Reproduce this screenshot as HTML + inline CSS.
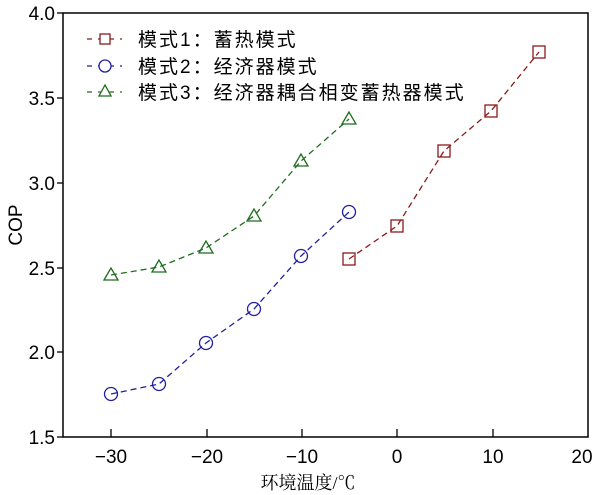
<!DOCTYPE html>
<html><head><meta charset="utf-8"><style>html,body{margin:0;padding:0;background:#fff}svg{display:block}</style></head><body>
<svg width="601" height="495" xmlns="http://www.w3.org/2000/svg" font-family="Liberation Sans, Noto Sans CJK SC, sans-serif">
<rect x="63" y="13" width="525" height="424" fill="none" stroke="#000" stroke-width="1.5"/>
<g stroke="#000" stroke-width="1.3">
<line x1="57" y1="13" x2="63" y2="13"/><line x1="57" y1="98" x2="63" y2="98"/><line x1="57" y1="183" x2="63" y2="183"/><line x1="57" y1="268" x2="63" y2="268"/><line x1="57" y1="352" x2="63" y2="352"/><line x1="57" y1="437" x2="63" y2="437"/>
<line x1="111" y1="437" x2="111" y2="429"/><line x1="207" y1="437" x2="207" y2="429"/><line x1="302" y1="437" x2="302" y2="429"/><line x1="397" y1="437" x2="397" y2="429"/><line x1="493" y1="437" x2="493" y2="429"/>
</g>
<g font-size="19" text-anchor="end" fill="#000">
<text x="55" y="20">4.0</text><text x="55" y="105">3.5</text><text x="55" y="190">3.0</text><text x="55" y="275">2.5</text><text x="55" y="359">2.0</text><text x="55" y="444">1.5</text>
</g>
<g font-size="19" text-anchor="middle" fill="#000">
<text x="111" y="463">−30</text><text x="207" y="463">−20</text><text x="302" y="463">−10</text><text x="397" y="463">0</text><text x="493" y="463">10</text><text x="582" y="463">20</text>
<text x="308" y="489" font-size="18" font-family="Liberation Serif, Noto Serif CJK SC, serif">环境温度/℃</text>
<text transform="translate(22,225) rotate(-90)">COP</text>
</g>
<g fill="none" stroke-width="1.3">
<polyline stroke="#8b1a1a" stroke-dasharray="6,4" points="349,259 397,226 444,151 491,111 539,52"/>
<polyline stroke="#2020a0" stroke-dasharray="6,4" points="111,394 159,384 206,343 254,309 301,256 349,212"/>
<polyline stroke="#1f6e1f" stroke-dasharray="6,4" points="111,275 159,267 206,248 254,216 301,161 349,119"/>
<g stroke="#8b1a1a"><rect x="343" y="253" width="12" height="12"/><rect x="391" y="220" width="12" height="12"/><rect x="438" y="145" width="12" height="12"/><rect x="485" y="105" width="12" height="12"/><rect x="533" y="46" width="12" height="12"/></g>
<g stroke="#2020a0"><circle cx="111" cy="394" r="6.5"/><circle cx="159" cy="384" r="6.5"/><circle cx="206" cy="343" r="6.5"/><circle cx="254" cy="309" r="6.5"/><circle cx="301" cy="256" r="6.5"/><circle cx="349" cy="212" r="6.5"/></g>
<g stroke="#1f6e1f">
<polygon points="111,268 104,280 118,280"/><polygon points="159,260 152,272 166,272"/><polygon points="206,241 199,253 213,253"/><polygon points="254,209 247,221 261,221"/><polygon points="301,154 294,166 308,166"/><polygon points="349,112 342,124 356,124"/></g>
<line x1="87" y1="39" x2="122" y2="39" stroke="#8b1a1a" stroke-dasharray="5,6"/>
<rect x="100" y="34" width="10" height="10" stroke="#8b1a1a" fill="#fff"/>
<line x1="87" y1="66" x2="122" y2="66" stroke="#2020a0" stroke-dasharray="5,6"/>
<circle cx="105" cy="66" r="6" stroke="#2020a0" fill="#fff"/>
<line x1="87" y1="92" x2="122" y2="92" stroke="#1f6e1f" stroke-dasharray="5,6"/>
<polygon points="105,85 99,96 111,96" stroke="#1f6e1f" fill="#fff"/>
</g>
<g font-size="19" fill="#000" letter-spacing="2">
<text x="138" y="46">模式1：蓄热模式</text>
<text x="138" y="73">模式2：经济器模式</text>
<text x="138" y="99">模式3：经济器耦合相变蓄热器模式</text>
</g>
</svg>
</body></html>
